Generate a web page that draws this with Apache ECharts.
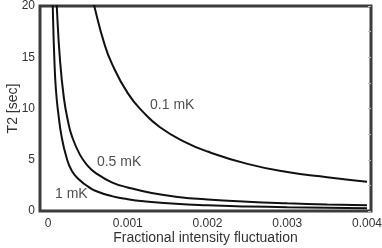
<!DOCTYPE html>
<html><head><meta charset="utf-8">
<script src="https://cdn.jsdelivr.net/npm/echarts@6/dist/echarts.min.js"></script>
<style>html,body{margin:0;padding:0;background:#fff}#c{width:382px;height:248px}</style>
</head><body><div id="c"></div>
<script>
const xTicks = [0, 0.001, 0.002, 0.003, 0.004];
const xTickLabels = ['0', '0.001', '0.002', '0.003', '0.004'];
const yTicks = [0, 5, 10, 15, 20];

const curve1mK = [[0.00005,24],[0.00006,20],[0.00008,14.8],[0.0001,11.8],[0.00013,9.5],[0.00017,7.3],[0.00023,5.3],[0.0003,3.9],[0.0004,3.0],[0.0005,2.4],[0.0006,1.95],[0.0008,1.45],[0.001,1.15],[0.0012,0.95],[0.0016,0.7],[0.002,0.56],[0.0025,0.45],[0.003,0.37],[0.0035,0.32],[0.004,0.28]];
const curve05mK = [[0.0001,22],[0.00011,20],[0.00015,14.8],[0.0002,11],[0.00025,8.8],[0.0003,7.3],[0.0004,5.5],[0.0005,4.4],[0.0006,3.7],[0.0008,2.8],[0.001,2.3],[0.0013,1.75],[0.0016,1.4],[0.002,1.12],[0.0025,0.9],[0.003,0.75],[0.0035,0.64],[0.004,0.56]];
const curve01mK = [[0.00055,21],[0.00058,20],[0.0007,16.5],[0.0008,14.4],[0.001,11.5],[0.0012,9.6],[0.0014,8.2],[0.0017,6.8],[0.002,5.8],[0.0025,4.6],[0.003,3.8],[0.0035,3.3],[0.004,2.85]];
const curveLabels = [
  {name:'0.1 mK', coord:[0.00128, 10.3]},
  {name:'0.5 mK', coord:[0.000614, 4.8]},
  {name:'1 mK', coord:[0.0000877, 1.6]}
];

const font = 'Liberation Sans, Arial, sans-serif';
const chart = echarts.init(document.getElementById('c'));
const lineSeries = (d) => ({type:'line', data:d, showSymbol:false, symbol:'none', smooth:0.5, clip:true,
  lineStyle:{color:'#111', width:2}, z:3});
chart.setOption({
  animation:false,
  grid:{left:40, right:11, top:6, bottom:37, outerBoundsMode:'none', containLabel:false,
    show:true, borderColor:'#3c3c3c', borderWidth:3, backgroundColor:'#fff'},
  xAxis:{type:'value', min:-0.0001, max:0.00405,
    name:'Fractional intensity fluctuation', nameLocation:'middle', nameGap:20, nameMoveOverlap:false,
    nameTextStyle:{fontFamily:font, fontSize:14, color:'#333'},
    axisLine:{show:false}, axisTick:{show:false}, splitLine:{show:false},
    axisLabel:{customValues:xTicks, fontFamily:font, fontSize:12, color:'#333', margin:7,
      formatter:(v)=>{const i=xTicks.findIndex(t=>Math.abs(t-v)<1e-9);return i>=0?xTickLabels[i]:'';}}},
  yAxis:[{type:'value', min:0, max:20, interval:5,
    name:'T2 [sec]', nameLocation:'middle', nameGap:20, nameMoveOverlap:false,
    nameTextStyle:{fontFamily:font, fontSize:14, color:'#333'},
    axisLine:{show:false}, axisTick:{show:false}, splitLine:{show:false},
    axisLabel:{customValues:yTicks, fontFamily:font, fontSize:12, color:'#333', margin:5}},
   {type:'value', min:0, max:20, interval:2.5, position:'right',
    axisLine:{show:false}, axisLabel:{show:false}, splitLine:{show:false},
    axisTick:{show:true, inside:true, length:3, lineStyle:{color:'#bbb', width:1}}}],
  series:[
    lineSeries(curve01mK), lineSeries(curve05mK), lineSeries(curve1mK),
    {type:'scatter', symbolSize:0, data:curveLabels.map(l=>({value:l.coord, name:l.name})), z:4,
     label:{show:true, position:'right', distance:0, formatter:'{b}', fontFamily:font, fontSize:14, color:'#222'}}
  ]
});
</script></body></html>
